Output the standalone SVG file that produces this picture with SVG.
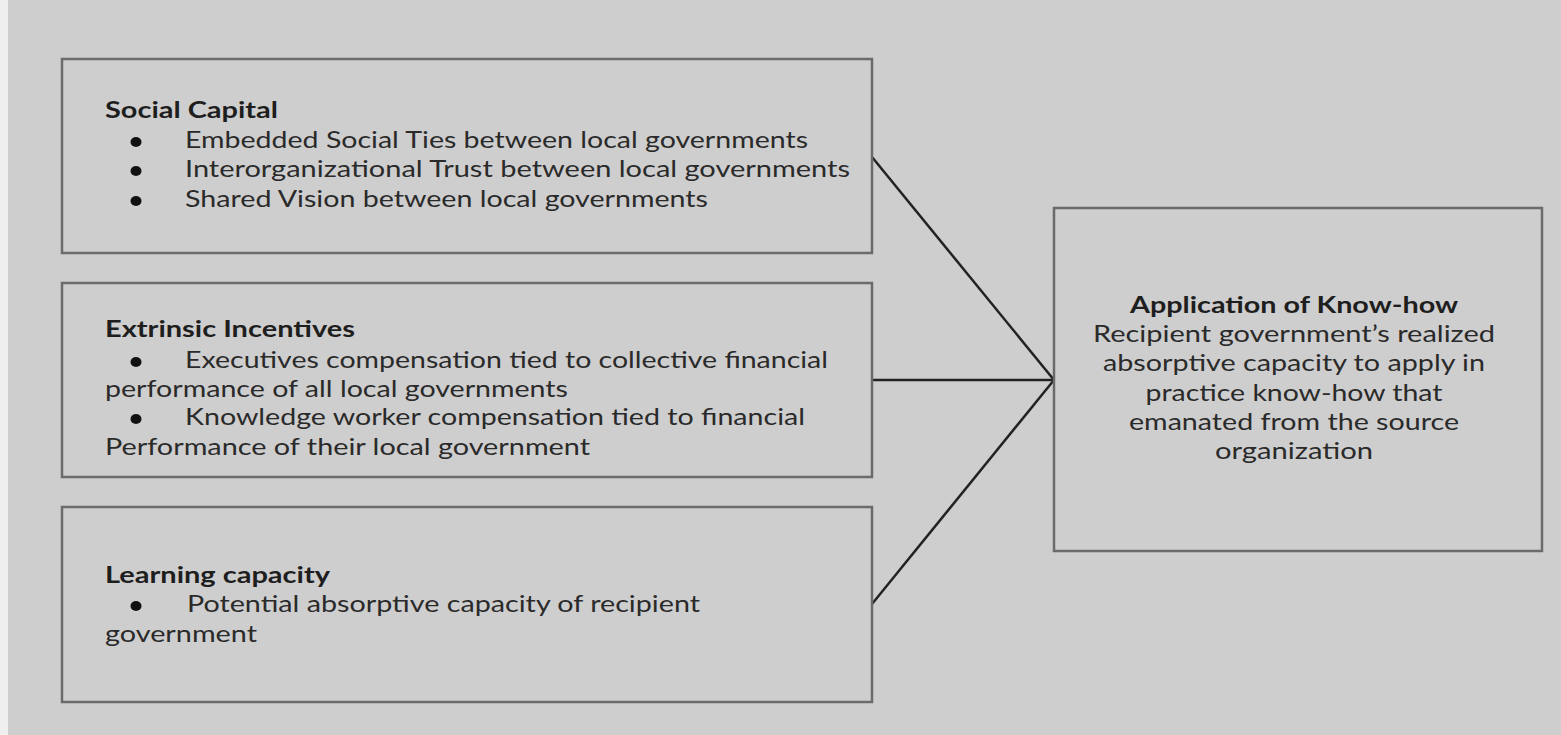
<svg xmlns="http://www.w3.org/2000/svg" width="1561" height="735" viewBox="0 0 1561 735">
  <style>
    .box { fill: none; stroke: #6b6b6b; stroke-width: 2.5; }
    .link { fill: none; stroke: #222; stroke-width: 2.5; }
    .dot { fill: #111; }
    text { font-family: Lato, "Open Sans", "Liberation Sans", sans-serif; font-size: 22.5px; fill: #2a2a2a; }
    .title { font-weight: bold; fill: #1e1e1e; }
    .c { text-anchor: middle; }
  </style>
  <rect x="0" y="0" width="1561" height="735" fill="#cecece"/>
  <rect x="0" y="0" width="8" height="735" fill="#efefef"/>

  <g id="connectors">
    <line class="link" x1="872" y1="157" x2="1054" y2="380"/>
    <line class="link" x1="872" y1="380" x2="1054" y2="380"/>
    <line class="link" x1="872" y1="604" x2="1054" y2="380"/>
  </g>

  <g id="social-capital">
    <rect class="box" x="62" y="59" width="810" height="194"/>
    <text class="title" x="105" y="118" textLength="173" lengthAdjust="spacingAndGlyphs">Social Capital</text>
    <ellipse class="dot" cx="136" cy="142" rx="5.5" ry="5"/>
    <text x="185" y="148" textLength="623" lengthAdjust="spacingAndGlyphs">Embedded Social Ties between local governments</text>
    <ellipse class="dot" cx="136" cy="171" rx="5.5" ry="5"/>
    <text x="185" y="177" textLength="665" lengthAdjust="spacingAndGlyphs">Interorganizational Trust between local governments</text>
    <ellipse class="dot" cx="136" cy="201" rx="5.5" ry="5"/>
    <text x="185" y="207" textLength="523" lengthAdjust="spacingAndGlyphs">Shared Vision between local governments</text>
  </g>

  <g id="extrinsic-incentives">
    <rect class="box" x="62" y="283" width="810" height="194"/>
    <text class="title" x="105" y="337" textLength="250" lengthAdjust="spacingAndGlyphs">Extrinsic Incentives</text>
    <ellipse class="dot" cx="136" cy="362" rx="5.5" ry="5"/>
    <text x="185" y="368" textLength="643" lengthAdjust="spacingAndGlyphs">Executives compensation tied to collective financial</text>
    <text x="105" y="397" textLength="463" lengthAdjust="spacingAndGlyphs">performance of all local governments</text>
    <ellipse class="dot" cx="136" cy="419" rx="5.5" ry="5"/>
    <text x="185" y="425" textLength="620" lengthAdjust="spacingAndGlyphs">Knowledge worker compensation tied to financial</text>
    <text x="105" y="455" textLength="485" lengthAdjust="spacingAndGlyphs">Performance of their local government</text>
  </g>

  <g id="learning-capacity">
    <rect class="box" x="62" y="507" width="810" height="195"/>
    <text class="title" x="105" y="583" textLength="225" lengthAdjust="spacingAndGlyphs">Learning capacity</text>
    <ellipse class="dot" cx="136" cy="606" rx="5.5" ry="5"/>
    <text x="187" y="612" textLength="513" lengthAdjust="spacingAndGlyphs">Potential absorptive capacity of recipient</text>
    <text x="105" y="642" textLength="152" lengthAdjust="spacingAndGlyphs">government</text>
  </g>

  <g id="application-of-know-how">
    <rect class="box" x="1054" y="208" width="488" height="343"/>
    <text class="title c" x="1294" y="313" textLength="328" lengthAdjust="spacingAndGlyphs">Application of Know-how</text>
    <text class="c" x="1294" y="342" textLength="402" lengthAdjust="spacingAndGlyphs">Recipient government’s realized</text>
    <text class="c" x="1294" y="371" textLength="382" lengthAdjust="spacingAndGlyphs">absorptive capacity to apply in</text>
    <text class="c" x="1294" y="401" textLength="297" lengthAdjust="spacingAndGlyphs">practice know-how that</text>
    <text class="c" x="1294" y="430" textLength="330" lengthAdjust="spacingAndGlyphs">emanated from the source</text>
    <text class="c" x="1294" y="459" textLength="158" lengthAdjust="spacingAndGlyphs">organization</text>
  </g>
</svg>
